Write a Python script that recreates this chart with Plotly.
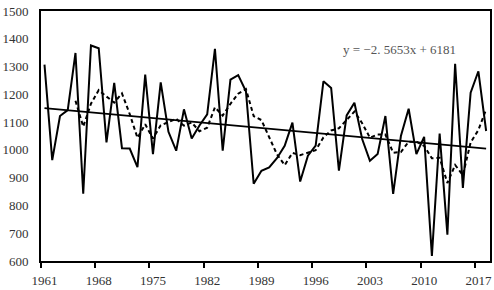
import plotly.graph_objects as go
import pandas as pd

years = list(range(1961, 2019))
values = [1307, 963, 1122, 1143, 1349, 842, 1376, 1366, 1027, 1241,
          1006, 1005, 938, 1271, 985, 1243, 1065, 997, 1146, 1041,
          1088, 1128, 1364, 997, 1253, 1269, 1211, 878, 925, 937,
          970, 1015, 1098, 886, 979, 1015, 1247, 1223, 925, 1124,
          1170, 1039, 961, 985, 1122, 842, 1050, 1148, 985, 1047,
          618, 1059, 695, 1310, 863, 1206, 1283, 1068]
tick_years = [1961, 1968, 1975, 1982, 1989, 1996, 2003, 2010, 2017]
slope, intercept = -2.5653, 6181

ma5 = pd.Series(values).rolling(5).mean().tolist()
trend = [slope * y + intercept for y in years]

fig = go.Figure()
fig.add_trace(go.Scatter(x=years, y=values, mode="lines",
                         line=dict(color="black", width=2), showlegend=False))
fig.add_trace(go.Scatter(x=years, y=ma5, mode="lines",
                         line=dict(color="black", width=2, dash="4px,3px"), showlegend=False))
fig.add_trace(go.Scatter(x=[years[0], years[-1]], y=[trend[0], trend[-1]], mode="lines",
                         line=dict(color="black", width=1.8), showlegend=False))

fig.add_annotation(x=0.798, y=1360, xref="paper", yref="y", xanchor="center", yanchor="middle",
                   text="y = −2. 5653x + 6181", showarrow=False,
                   font=dict(family="Liberation Serif", size=13, color="#555555"))

fig.update_layout(
    width=494, height=290,
    margin=dict(l=37, r=2, t=11, b=27),
    paper_bgcolor="white", plot_bgcolor="white",
    font=dict(family="Liberation Serif", size=13, color="#333333"),
)
fig.update_xaxes(
    range=[1960.55, 2018.5], showgrid=False, zeroline=False,
    showline=True, linecolor="black", linewidth=2, mirror=True,
    tickmode="array", tickvals=tick_years, ticktext=[str(t) for t in tick_years],
    ticks="", ticklabelstandoff=6,
    minor=dict(tickmode="array", tickvals=[t - 0.45 for t in tick_years],
               ticks="outside", ticklen=5, tickwidth=1.5, tickcolor="black", showgrid=False),
)
fig.update_yaxes(
    range=[600, 1500], showgrid=False, zeroline=False,
    showline=True, linecolor="black", linewidth=2, mirror=True,
    tickmode="array", tickvals=list(range(600, 1501, 100)),
    ticks="", ticklabelstandoff=8,
)

fig.write_html("out.html", config={"displayModeBar": False},
               post_script="document.body.style.margin='0';")
